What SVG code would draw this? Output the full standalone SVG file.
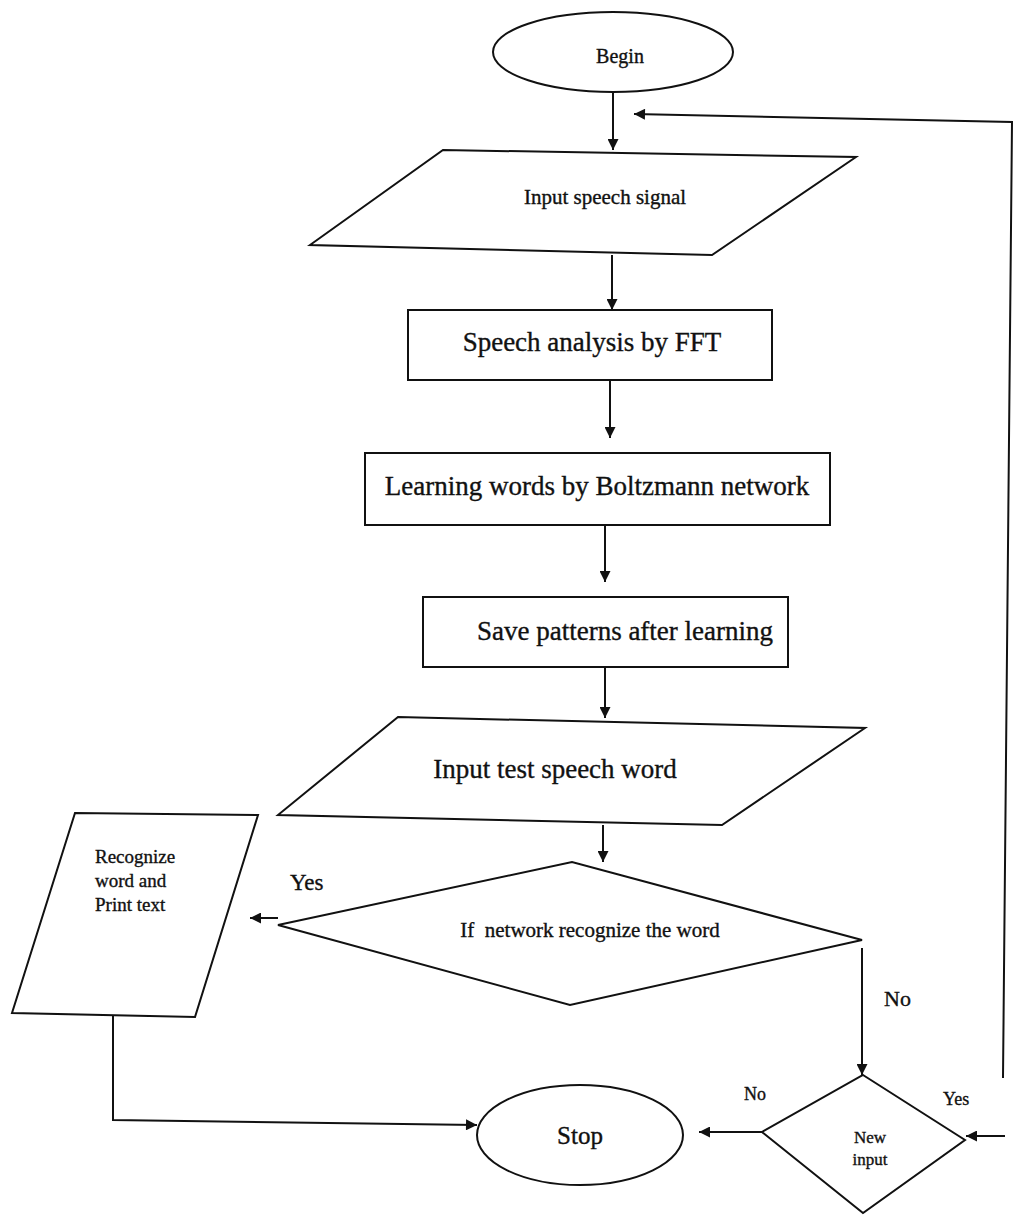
<svg xmlns="http://www.w3.org/2000/svg" width="1016" height="1218" viewBox="0 0 1016 1218">
<style>
.s{fill:#fff;stroke:#111;stroke-width:2}
.c{fill:none;stroke:#111;stroke-width:2}
text{font-family:"Liberation Serif","Times New Roman",serif;fill:#111;stroke:#111;stroke-width:0.35}
.m{text-anchor:middle}
</style>
<defs>
<marker id="a" viewBox="0 0 10 10" refX="10" refY="5" markerWidth="13" markerHeight="11" markerUnits="userSpaceOnUse" orient="auto"><path d="M0,0L10,5L0,10z" fill="#111"/></marker>
</defs>
<rect width="1016" height="1218" fill="#fff"/>
<g id="connectors" marker-end="url(#a)">
<path class="c" d="M613,92V150"/>
<path class="c" d="M1003,1078L1012,122L634,114"/>
<path class="c" d="M612,255V310"/>
<path class="c" d="M610,380V438"/>
<path class="c" d="M605,525V582"/>
<path class="c" d="M605,667V718"/>
<path class="c" d="M603,825V862"/>
<path class="c" d="M278,918H250"/>
<path class="c" d="M862,948V1075"/>
<path class="c" d="M113,1015V1120L477,1125"/>
<path class="c" d="M762,1132H699"/>
<path class="c" d="M1005,1136H966"/>
</g>
<g id="begin"><ellipse class="s" cx="613" cy="52" rx="120" ry="40"/><text class="m" x="620" y="63" font-size="20">Begin</text></g>
<g id="input-signal"><polygon class="s" points="443,150 856,157 712,255 310,245"/><text class="m" x="605" y="204" font-size="21">Input speech signal</text></g>
<g id="fft"><rect class="s" x="408" y="310" width="364" height="70"/><text class="m" x="592" y="351" font-size="27">Speech analysis by FFT</text></g>
<g id="learning"><rect class="s" x="365" y="453" width="465" height="72"/><text class="m" x="597" y="495" font-size="27">Learning words by Boltzmann network</text></g>
<g id="save"><rect class="s" x="423" y="597" width="365" height="70"/><text class="m" x="625" y="640" font-size="27">Save patterns after learning</text></g>
<g id="input-test"><polygon class="s" points="398,717 865,728 722,825 278,815"/><text class="m" x="555" y="778" font-size="27">Input test speech word</text></g>
<g id="decision"><polygon class="s" points="278,925 572,862 862,940 570,1005"/><text class="m" x="590" y="937" font-size="21">If&#160; network recognize the word</text></g>
<g id="recognize"><polygon class="s" points="75,813 258,815 195,1017 12,1013"/><text x="95" y="863" font-size="19">Recognize</text><text x="95" y="887" font-size="19">word and</text><text x="95" y="911" font-size="19">Print text</text></g>
<g id="stop"><ellipse class="s" cx="580" cy="1135" rx="103" ry="50"/><text class="m" x="580" y="1144" font-size="25">Stop</text></g>
<g id="new-input"><polygon class="s" points="863,1075 965,1140 863,1213 762,1132"/><text class="m" x="870" y="1143" font-size="17">New</text><text class="m" x="870" y="1165" font-size="17">input</text></g>
<g id="labels">
<text x="290" y="890" font-size="23">Yes</text>
<text x="884" y="1006" font-size="22">No</text>
<text x="744" y="1100" font-size="18">No</text>
<text x="943" y="1105" font-size="18">Yes</text>
</g>
</svg>
